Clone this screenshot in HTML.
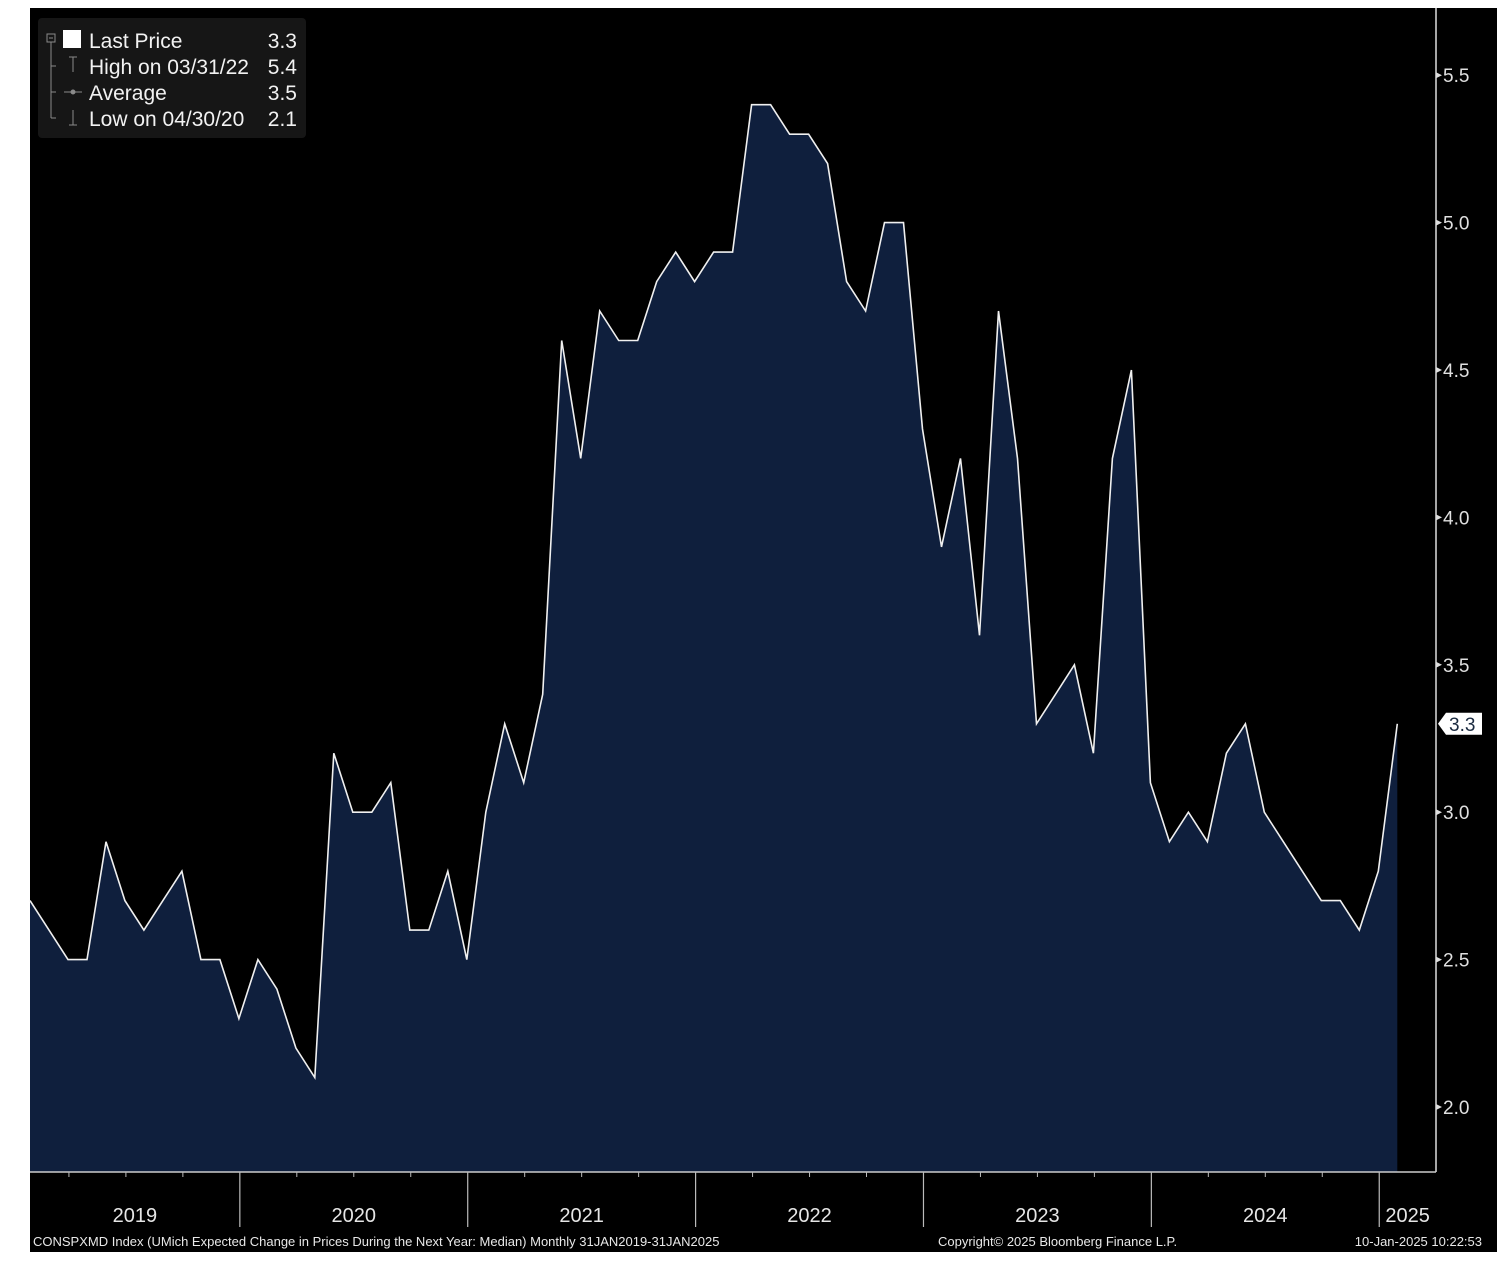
<!DOCTYPE html>
<html><head><meta charset="utf-8"><style>
html,body{margin:0;padding:0;background:#fff;}
svg{display:block;font-family:"Liberation Sans",sans-serif;}
</style></head><body>
<svg id="chart" width="1502" height="1270">
<rect x="30" y="8" width="1467" height="1244" fill="#000"/>
<g id="plot"></g>
<g id="axes"></g>
<g>
<rect x="38" y="18" width="268" height="120" rx="4" fill="#161616"/>
<g stroke="#8a8a8a" stroke-width="1" fill="none">
<rect x="47" y="34" width="8" height="8"/><line x1="49" y1="38" x2="53" y2="38"/>
<line x1="51" y1="42" x2="51" y2="118"/><line x1="51" y1="66" x2="56" y2="66"/><line x1="51" y1="92" x2="56" y2="92"/><line x1="51" y1="118" x2="56" y2="118"/>
<line x1="73" y1="57" x2="73" y2="72"/><line x1="69" y1="57" x2="77" y2="57"/>
<line x1="64" y1="92" x2="82" y2="92"/><circle cx="73" cy="92" r="2" fill="#8a8a8a"/>
<line x1="73" y1="110" x2="73" y2="125"/><line x1="69" y1="125" x2="77" y2="125"/>
</g>
<rect x="63" y="30" width="18" height="18" fill="#fff"/>
<g fill="#f2f2f2" font-size="21">
<text x="89" y="48">Last Price</text><text x="297" y="48" text-anchor="end">3.3</text>
<text x="89" y="74">High on 03/31/22</text><text x="297" y="74" text-anchor="end">5.4</text>
<text x="89" y="100">Average</text><text x="297" y="100" text-anchor="end">3.5</text>
<text x="89" y="126">Low on 04/30/20</text><text x="297" y="126" text-anchor="end">2.1</text>
</g></g>
<g fill="#e8e8e8" font-size="13">
<text x="33" y="1246">CONSPXMD Index (UMich Expected Change in Prices During the Next Year: Median)  Monthly 31JAN2019-31JAN2025</text>
<text x="938" y="1246">Copyright© 2025 Bloomberg Finance L.P.</text>
<text x="1482" y="1246" text-anchor="end">10-Jan-2025 10:22:53</text>
</g>
</svg>
<script>
const values = [2.7,2.6,2.5,2.5,2.9,2.7,2.6,2.7,2.8,2.5,2.5,2.3,
 2.5,2.4,2.2,2.1,3.2,3.0,3.0,3.1,2.6,2.6,2.8,2.5,
 3.0,3.3,3.1,3.4,4.6,4.2,4.7,4.6,4.6,4.8,4.9,4.8,
 4.9,4.9,5.4,5.4,5.3,5.3,5.2,4.8,4.7,5.0,5.0,4.3,
 3.9,4.2,3.6,4.7,4.2,3.3,3.4,3.5,3.2,4.2,4.5,3.1,
 2.9,3.0,2.9,3.2,3.3,3.0,2.9,2.8,2.7,2.7,2.6,2.8,
 3.3];
const years = ["2019","2020","2021","2022","2023","2024","2025"];
const yTicks = [2.0,2.5,3.0,3.5,4.0,4.5,5.0,5.5];
const lastLabel = "3.3";

const NS="http://www.w3.org/2000/svg";
const X0=30, DX=18.99, BOTTOM=1172, AXX=1436;
function xs(i){return X0+i*DX;}
function ys(v){return 1107-(v-2.0)*294.8;}
function mk(tag,attrs,parent){const e=document.createElementNS(NS,tag);for(const k in attrs)e.setAttribute(k,attrs[k]);parent.appendChild(e);return e;}
const plot=document.getElementById('plot'), axes=document.getElementById('axes');

let pts=values.map((v,i)=>xs(i).toFixed(1)+","+ys(v).toFixed(1));
const area=mk('polygon',{points:X0+","+BOTTOM+" "+pts.join(" ")+" "+xs(values.length-1).toFixed(1)+","+BOTTOM,fill:"#0f1f3d"},plot);


const line=mk('polyline',{points:pts.join(" "),fill:"none",stroke:"#f0f0f0","stroke-width":1.6},plot);



const al=mk('line',{x1:AXX,y1:8,x2:AXX,y2:BOTTOM,stroke:"#ddd","stroke-width":1.5},axes);


const bl=mk('line',{x1:X0,y1:BOTTOM,x2:AXX,y2:BOTTOM,stroke:"#ccc","stroke-width":1.5},axes);



yTicks.forEach(t=>{
 const y=ys(t);
 mk('polygon',{points:`${AXX},${y-3} ${AXX+6},${y} ${AXX},${y+3}`,fill:"#ddd"},axes);
 const tx=mk('text',{x:AXX+7,y:y+7,fill:"#e0e0e0","font-size":19},axes);
 tx.textContent=t.toFixed(1);
 
 
});
// last price tag
const ly=ys(values[values.length-1]);
const tag=mk('polygon',{points:`${AXX+2},${ly} ${AXX+10},${ly-11} ${1482},${ly-11} ${1482},${ly+11} ${AXX+10},${ly+11}`,fill:"#fff"},axes);


const lt=mk('text',{x:AXX+13,y:ly+7,fill:"#1a2a40","font-size":19},axes);
lt.textContent=lastLabel;



// year separators & labels
years.forEach((yr,k)=>{
 const sep=xs(12*k-0.95);
 const next=xs(12*(k+1)-0.95);
 if(k>0){const s=mk('line',{x1:sep,y1:BOTTOM,x2:sep,y2:1227,stroke:"#bbb","stroke-width":1.2},axes);
  
  }
 for(let q=1;q<4;q++){const qx=sep+q*3*DX; if(qx<AXX) mk('line',{x1:qx,y1:BOTTOM,x2:qx,y2:BOTTOM+5,stroke:"#bbb"},axes);}
 const lo=Math.max(sep,X0), hi=Math.min(next,AXX);
 const t=mk('text',{x:(lo+hi)/2,y:1222,fill:"#e6e6e6","font-size":20,"text-anchor":"middle"},axes);
 t.textContent=yr;
 
 
});
</script>
</body></html>
